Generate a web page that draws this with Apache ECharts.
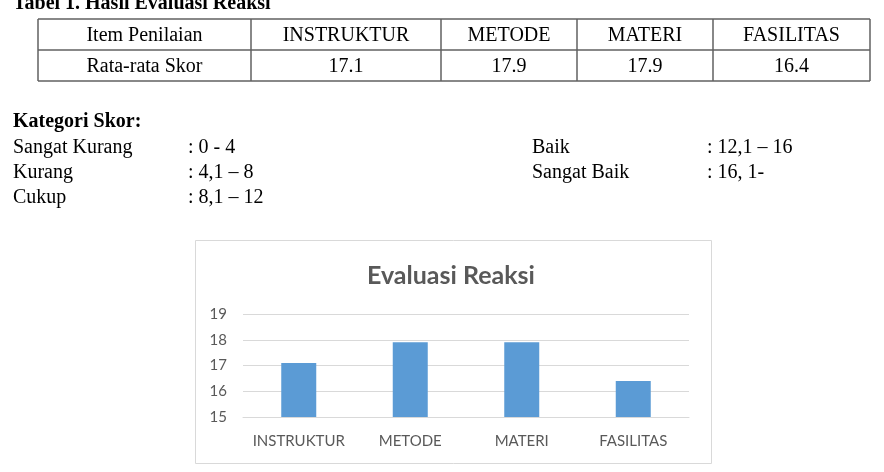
<!DOCTYPE html>
<html>
<head>
<meta charset="utf-8">
<script src="https://cdn.jsdelivr.net/npm/echarts@6/dist/echarts.min.js"></script>
<style>
html,body{margin:0;padding:0;background:#fff;}
#main{width:884px;height:472px;}
</style>
</head>
<body>
<div id="main"></div>
<script>
// ---- data ----
var docTitle = 'Tabel 1. Hasil Evaluasi Reaksi';
var tableHeadLabel = 'Item Penilaian';
var tableRowLabel = 'Rata-rata Skor';
var categories = ['INSTRUKTUR', 'METODE', 'MATERI', 'FASILITAS'];
var scores = [17.1, 17.9, 17.9, 16.4];
var scoreLabels = ['17.1', '17.9', '17.9', '16.4'];
var kategoriTitle = 'Kategori Skor:';
var kategoriLeftNames = ['Sangat Kurang', 'Kurang', 'Cukup'];
var kategoriLeftRanges = [': 0 - 4', ': 4,1 \u2013 8', ': 8,1 \u2013 12'];
var kategoriRightNames = ['Baik', 'Sangat Baik'];
var kategoriRightRanges = [': 12,1 \u2013 16', ': 16, 1-'];
var chartTitle = 'Evaluasi Reaksi';
var yTicks = [15, 16, 17, 18, 19];

// ---- layout ----
var serif = '"Liberation Serif", "Times New Roman", serif';
var sans = 'Lato, "Open Sans", sans-serif';
var colX = [38, 251, 441, 577, 713, 870];
var rowY = [19, 50, 81];
var g = [];
function txt(x, y, s, font, align) {
  return {type: 'text', x: x, y: y, z: 10, silent: true,
    style: {text: s, font: font, fill: '#000', align: align || 'left', verticalAlign: 'middle',
            textAlign: align || 'left', textVerticalAlign: 'middle'}};
}
function ln(x1, y1, x2, y2) {
  return {type: 'line', z: 10, silent: true, shape: {x1: x1, y1: y1, x2: x2, y2: y2},
    style: {stroke: '#606060', lineWidth: 1.5}};
}
g.push(txt(13, 4, docTitle, 'bold 20px ' + serif));
// table lines
rowY.forEach(function (y) { g.push(ln(colX[0], y, colX[colX.length - 1], y)); });
colX.forEach(function (x) { g.push(ln(x, rowY[0], x, rowY[2])); });
var heads = [tableHeadLabel].concat(categories);
var vals = [tableRowLabel].concat(scoreLabels);
for (var i = 0; i < heads.length; i++) {
  var cx = (colX[i] + colX[i + 1]) / 2;
  g.push(txt(cx, (rowY[0] + rowY[1]) / 2 + 1, heads[i], '20px ' + serif, 'center'));
  g.push(txt(cx, (rowY[1] + rowY[2]) / 2 + 1, vals[i], '20px ' + serif, 'center'));
}
// kategori
g.push(txt(13, 122, kategoriTitle, 'bold 20px ' + serif));
kategoriLeftNames.forEach(function (n, k) {
  g.push(txt(13, 148 + 25 * k, n, '20px ' + serif));
  g.push(txt(188, 148 + 25 * k, kategoriLeftRanges[k], '20px ' + serif));
});
kategoriRightNames.forEach(function (n, k) {
  g.push(txt(532, 148 + 25 * k, n, '20px ' + serif));
  g.push(txt(707, 148 + 25 * k, kategoriRightRanges[k], '20px ' + serif));
});
// chart frame
g.push({type: 'rect', z: 0, silent: true, shape: {x: 195.5, y: 240.5, width: 516, height: 223},
  style: {fill: '#fff', stroke: '#d9d9d9', lineWidth: 1}});

var chart = echarts.init(document.getElementById('main'), null, {renderer: 'canvas'});
chart.setOption({
  animation: false,
  backgroundColor: '#fff',
  title: {
    text: chartTitle, left: 362, top: 258,
    textStyle: {fontFamily: sans, fontWeight: 'bold', fontSize: 25, color: '#595959'}
  },
  graphic: {elements: g},
  grid: {left: 243, right: 195, top: 314, bottom: 55, containLabel: false},
  xAxis: {
    type: 'category', data: categories,
    axisLine: {show: true, lineStyle: {color: '#d9d9d9'}},
    axisTick: {show: false},
    axisLabel: {color: '#595959', fontFamily: sans, fontSize: 15, margin: 17, interval: 0},
    splitLine: {show: false}
  },
  yAxis: {
    type: 'value', min: yTicks[0], max: yTicks[yTicks.length - 1], interval: 1,
    axisLine: {show: false}, axisTick: {show: false},
    axisLabel: {color: '#595959', fontFamily: sans, fontSize: 15, margin: 16},
    splitLine: {lineStyle: {color: '#d9d9d9', width: 1}}
  },
  series: [{
    type: 'bar', data: scores, barWidth: 35,
    itemStyle: {color: '#5b9bd5'}
  }]
});
</script>
</body>
</html>
